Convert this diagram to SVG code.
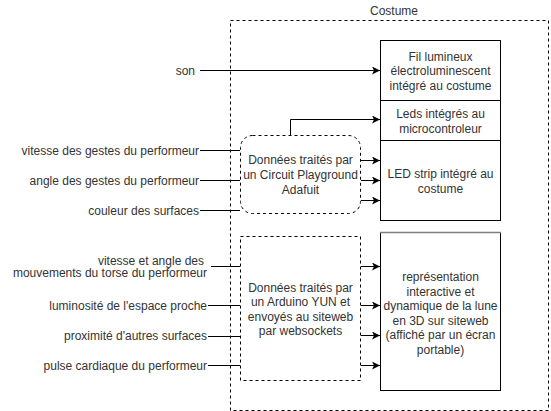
<svg xmlns="http://www.w3.org/2000/svg" width="551" height="411" viewBox="0 0 551 411">
<style>
text{font-family:"Liberation Sans",Arial,sans-serif;font-size:12px;fill:#333333}
.c{text-anchor:middle}
.r{text-anchor:end}
.box{fill:#ffffff;stroke:#000000;stroke-width:1}
.dash{fill:none;stroke:#000000;stroke-width:1;stroke-dasharray:3 3}
.ln{fill:none;stroke:#000000;stroke-width:1}
.ar{fill:none;stroke:#000000;stroke-width:1;marker-end:url(#ah)}
</style>
<defs>
<marker id="ah" viewBox="0 0 10 10" refX="10" refY="5" markerWidth="8" markerHeight="8" markerUnits="userSpaceOnUse" orient="auto">
<path d="M0,0 L10,5 L0,10 L2.5,5 Z" fill="#000000"/>
</marker>
</defs>
<g id="costume">
<rect class="dash" x="230.5" y="20.5" width="318" height="390"/>
<text class="c" x="394" y="15">Costume</text>
</g>
<g id="fil">
<rect class="box" x="380.5" y="40.5" width="120" height="60"/>
<text class="c" x="440.5" y="60.5">Fil lumineux</text>
<text class="c" x="440.5" y="75">électroluminescent</text>
<text class="c" x="440.5" y="89.5">intégré au costume</text>
</g>
<g id="leds">
<rect class="box" x="380.5" y="100.5" width="120" height="40"/>
<text class="c" x="440.5" y="118">Leds intégrés au</text>
<text class="c" x="440.5" y="132.5">microcontroleur</text>
</g>
<g id="ledstrip">
<rect class="box" x="380.5" y="140.5" width="120" height="80"/>
<text class="c" x="440.5" y="178">LED strip intégré au</text>
<text class="c" x="440.5" y="192.5">costume</text>
</g>
<g id="circuit">
<rect class="dash" x="240.5" y="135.5" width="120" height="78" rx="12" ry="12" stroke="#333333"/>
<text class="c" x="300.5" y="164">Données traités par</text>
<text class="c" x="300.5" y="179">un Circuit Playground</text>
<text class="c" x="300.5" y="194">Adafuit</text>
</g>
<g id="arduino">
<rect class="dash" x="240.5" y="236.5" width="120" height="144"/>
<text class="c" x="300.5" y="291.5">Données traités par</text>
<text class="c" x="300.5" y="306">un Arduino YUN et</text>
<text class="c" x="300.5" y="320.5">envoyés au siteweb</text>
<text class="c" x="300.5" y="335">par websockets</text>
</g>
<g id="lune">
<rect class="box" x="380.5" y="232.5" width="120" height="158"/>
<line x1="380" y1="232.5" x2="501" y2="232.5" stroke="#808080" stroke-width="1.5"/>
<text class="c" x="440.5" y="281">représentation</text>
<text class="c" x="440.5" y="295.5">interactive et</text>
<text class="c" x="440.5" y="310">dynamique de la lune</text>
<text class="c" x="440.5" y="324.5">en 3D sur siteweb</text>
<text class="c" x="440.5" y="339">(affiché par un écran</text>
<text class="c" x="440.5" y="353.5">portable)</text>
</g>
<g id="inputs">
<text class="r" x="195" y="74.5">son</text>
<text class="r" x="199" y="154.5">vitesse des gestes du performeur</text>
<text class="r" x="199" y="184.5">angle des gestes du performeur</text>
<text class="r" x="199" y="214.5">couleur des surfaces</text>
<text class="r" x="204" y="264.5">vitesse et angle des</text>
<text class="r" x="207" y="277">mouvements du torse du performeur</text>
<text class="r" x="207" y="309.5">luminosité de l'espace proche</text>
<text class="r" x="207" y="340">proximité d'autres surfaces</text>
<text class="r" x="207" y="369.5">pulse cardiaque du performeur</text>
</g>
<g id="connectors">
<path class="ar" d="M200,70.5 H380"/>
<path class="ln" d="M200,150.5 H240"/>
<path class="ln" d="M200,180.5 H240"/>
<path class="ln" d="M200,210.5 H240"/>
<path class="ar" d="M290.5,135 V119.5 H380"/>
<path class="ar" d="M361,160.5 H380"/>
<path class="ar" d="M361,180.5 H380"/>
<path class="ar" d="M361,200.5 H380"/>
<path class="ln" d="M211,266.5 H240"/>
<path class="ln" d="M208,305.5 H240"/>
<path class="ln" d="M208,336.5 H240"/>
<path class="ln" d="M208,365.5 H240"/>
<path class="ar" d="M361,266.5 H380"/>
<path class="ar" d="M361,305.5 H380"/>
<path class="ar" d="M361,335.5 H380"/>
<path class="ar" d="M361,365.5 H380"/>
</g>
</svg>
